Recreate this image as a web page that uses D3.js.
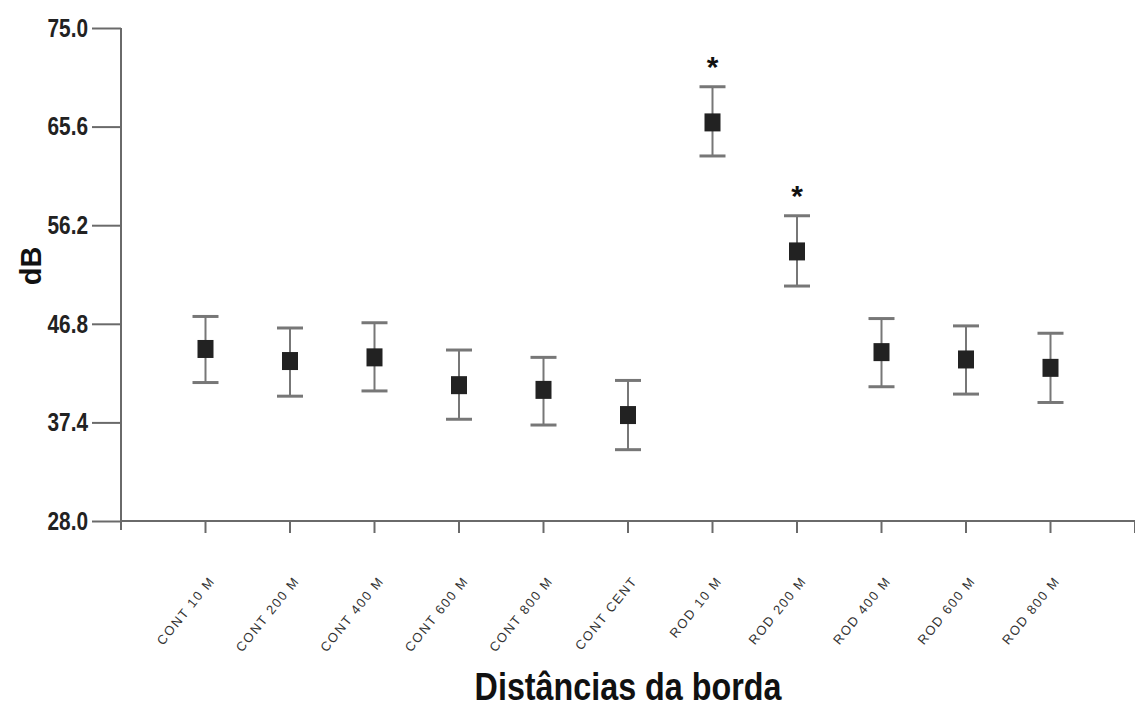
<!DOCTYPE html>
<html>
<head>
<meta charset="utf-8" />
<script src="https://d3js.org/d3.v7.min.js"></script>
<style>
  body { margin: 0; background: #fff; }
  svg { display: block; }
</style>
</head>
<body>
<svg id="chart" width="1135" height="709"></svg>
<script>
// categories and values
var categories = ["CONT 10 M", "CONT 200 M", "CONT 400 M", "CONT 600 M", "CONT 800 M", "CONT CENT",
                  "ROD 10 M", "ROD 200 M", "ROD 400 M", "ROD 600 M", "ROD 800 M"];
var means = [44.4, 43.25, 43.6, 40.95, 40.5, 38.1, 66.0, 53.7, 44.1, 43.4, 42.6];
var upper = [47.5, 46.4, 46.9, 44.3, 43.6, 41.4, 69.4, 57.1, 47.3, 46.6, 45.9];
var lower = [41.2, 39.9, 40.4, 37.7, 37.15, 34.8, 62.8, 50.4, 40.8, 40.1, 39.3];
var signif = [false, false, false, false, false, false, true, true, false, false, false];
var yTicks = [28.0, 37.4, 46.8, 56.2, 65.6, 75.0];

var data = categories.map((c, i) => ({ cat: c, mean: means[i], hi: upper[i], lo: lower[i], star: signif[i] }));

var svg = d3.select("#chart"),
    margin = { top: 28, left: 121, bottom: 188, right: 0 },
    width = +svg.attr("width"),
    height = +svg.attr("height");

var x = d3.scalePoint()
    .domain(categories)
    .range([margin.left, width - margin.right])
    .padding(1);

var y = d3.scaleLinear()
    .domain([28, 75])
    .range([height - margin.bottom, margin.top]);

var axisColor = "#6a6a6a";
var font = "'Liberation Sans', Arial, sans-serif";

// y axis
var yAxis = svg.append("g")
    .attr("transform", `translate(${margin.left},0)`)
    .call(d3.axisLeft(y).tickValues(yTicks).tickFormat(d3.format(".1f")).tickSize(29));
yAxis.select(".domain").attr("d", `M0,${y(75)}V${y(28) + 9}`).attr("stroke", axisColor).attr("stroke-width", 2);
yAxis.selectAll(".tick line").attr("stroke", axisColor).attr("stroke-width", 2);
yAxis.selectAll(".tick text")
    .attr("x", 0)
    .attr("transform", "translate(-33,0) scale(0.8,1)")
    .style("font-family", font)
    .style("font-size", "26px")
    .style("font-weight", "bold")
    .attr("fill", "#222");

// x axis (ticks every step, including the right end)
var step = x.step();
var xTickPos = d3.range(categories.length + 2).map(i => margin.left + i * step);
svg.append("line")
    .attr("x1", margin.left).attr("x2", width)
    .attr("y1", y(28)).attr("y2", y(28))
    .attr("stroke", axisColor).attr("stroke-width", 2);
svg.selectAll(".xtick")
    .data(xTickPos.slice(1))
    .enter().append("line")
    .attr("class", "xtick")
    .attr("x1", d => d).attr("x2", d => d)
    .attr("y1", y(28)).attr("y2", y(28) + 12)
    .attr("stroke", axisColor).attr("stroke-width", 2);

svg.selectAll(".xlabel")
    .data(categories)
    .enter().append("text")
    .attr("class", "xlabel")
    .attr("transform", d => `translate(${x(d) + 10},${y(28) + 60}) rotate(-51)`)
    .attr("text-anchor", "end")
    .style("font-family", font)
    .style("font-size", "13px")
    .style("letter-spacing", "1.6px")
    .attr("fill", "#333")
    .text(d => d);

// error bars
var g = svg.append("g");
g.selectAll(".whisker")
    .data(data)
    .enter().append("line")
    .attr("x1", d => x(d.cat)).attr("x2", d => x(d.cat))
    .attr("y1", d => y(d.hi)).attr("y2", d => y(d.lo))
    .attr("stroke", "#777").attr("stroke-width", 2);
["hi", "lo"].forEach(k => {
  g.selectAll(".cap-" + k)
      .data(data)
      .enter().append("line")
      .attr("x1", d => x(d.cat) - 13).attr("x2", d => x(d.cat) + 13)
      .attr("y1", d => y(d[k])).attr("y2", d => y(d[k]))
      .attr("stroke", "#777").attr("stroke-width", 3);
});
g.selectAll(".marker")
    .data(data)
    .enter().append("rect")
    .attr("x", d => x(d.cat) - 8)
    .attr("y", d => y(d.mean) - 9)
    .attr("width", 16).attr("height", 18)
    .attr("fill", "#222");

g.selectAll(".star")
    .data(data.filter(d => d.star))
    .enter().append("text")
    .attr("x", d => x(d.cat))
    .attr("y", d => y(d.hi) - 10)
    .attr("text-anchor", "middle")
    .style("font-family", font)
    .style("font-size", "30px")
    .style("font-weight", "bold")
    .attr("fill", "#111")
    .text("*");

// axis titles
svg.append("text")
    .attr("transform", `translate(41,266) rotate(-90)`)
    .attr("text-anchor", "middle")
    .style("font-family", font)
    .style("font-size", "29px")
    .style("font-weight", "bold")
    .attr("fill", "#111")
    .text("dB");

svg.append("text")
    .attr("transform", `translate(${(x(categories[0]) + x(categories[categories.length - 1])) / 2},700) scale(0.85,1)`)
    .attr("text-anchor", "middle")
    .style("font-family", font)
    .style("font-size", "38px")
    .style("font-weight", "bold")
    .attr("fill", "#111")
    .text("Distâncias da borda");
</script>
</body>
</html>
